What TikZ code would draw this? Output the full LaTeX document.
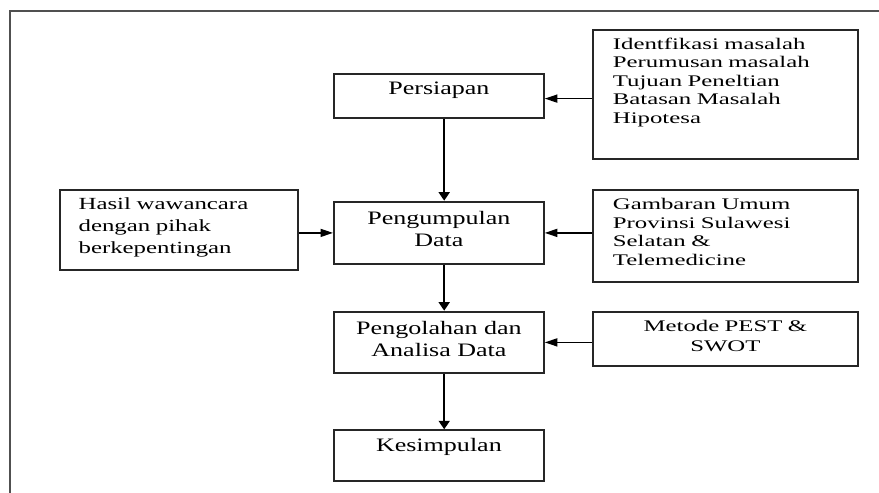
\documentclass[tikz,border=0pt]{standalone}
\usepackage{fontspec}
\setmainfont{Liberation Serif}
\newfontfamily\stagefont{Liberation Serif}[FakeStretch=1.37]
\newfontfamily\notefont{Liberation Serif}[FakeStretch=1.53]
\newfontfamily\hasilfont{Liberation Serif}[FakeStretch=1.46]
\usetikzlibrary{arrows.meta}
\definecolor{boxline}{HTML}{262626}
\definecolor{frameline}{HTML}{505050}
\tikzset{
  stage/.style={draw=boxline, line width=1.8pt, inner xsep=0pt, inner ysep=0pt,
    text width=210pt, align=center, anchor=north west,
    font=\stagefont\fontsize{19}{22.6}\selectfont},
  note/.style={draw=boxline, line width=1.8pt, inner xsep=19.7pt, inner ysep=0pt,
    text width=225pt, align=left, anchor=north west,
    font=\notefont\fontsize{16.2}{18.5}\selectfont},
  hflow/.style={line width=1.5pt, -{Triangle[length=12.5pt,width=8pt]}},
  vflow/.style={line width=1.7pt, -{Triangle[length=8.5pt,width=11pt]}},
}
\begin{document}
\begin{tikzpicture}[x=1pt,y=-1pt]
\useasboundingbox (0,0) rectangle (879,493);
% outer frame (cut off on the right and at the bottom)
\draw[frameline, line width=2.2pt] (10.3,493) -- (10.3,11) -- (879,11);
% main stages
\node[stage, text height=21.3pt, text depth=22.7pt] (persiapan) at (333,72.7) {Persiapan};
\node[stage, text height=22.6pt, text depth=40pt] (pengumpulan) at (333,200.7) {Pengumpulan\\Data};
\node[stage, text height=22.6pt, text depth=39pt] (pengolahan) at (333,310.7) {Pengolahan dan\\Analisa Data};
\node[stage, text height=21.7pt, text depth=29pt] (kesimpulan) at (333,429.3) {Kesimpulan};
% side inputs
\node[note, text height=19.3pt, text depth=109.4pt] (identifikasi) at (592.3,29)
  {Identfikasi masalah\\Perumusan masalah\\Tujuan Peneltian\\Batasan Masalah\\Hipotesa};
\node[note, text height=20pt, text depth=72pt] (gambaran) at (592.3,189)
  {Gambaran Umum\\Provinsi Sulawesi\\Selatan \&\\Telemedicine};
\node[note, align=center, inner xsep=0pt, text width=264.4pt,
  font=\notefont\fontsize{16.2}{20.3}\selectfont,
  text height=20pt, text depth=34.3pt] (metode) at (592.3,310.7) {Metode PEST \&\\SWOT};
\node[note, inner xsep=18.7pt, text width=200.3pt,
  font=\hasilfont\fontsize{17}{21.7}\selectfont,
  text height=20pt, text depth=60pt] (hasil) at (59,189)
  {Hasil wawancara\\dengan pihak\\berkepentingan};
% connectors
\coordinate (inlet) at ([yshift=-3pt]persiapan.east);
\draw[hflow] (inlet -| identifikasi.west) -- (inlet);
\draw[hflow] (hasil.east |- pengumpulan.west) -- (pengumpulan.west);
\draw[hflow] (gambaran.west |- pengumpulan.east) -- (pengumpulan.east);
\draw[hflow] (metode.west |- pengolahan.east) -- (pengolahan.east);
\draw[vflow] ([xshift=5.3pt]persiapan.south) -- ([xshift=5.3pt]pengumpulan.north);
\draw[vflow] ([xshift=5.3pt]pengumpulan.south) -- ([xshift=5.3pt]pengolahan.north);
\draw[vflow] ([xshift=5.3pt]pengolahan.south) -- ([xshift=5.3pt]kesimpulan.north);
\end{tikzpicture}
\end{document}
